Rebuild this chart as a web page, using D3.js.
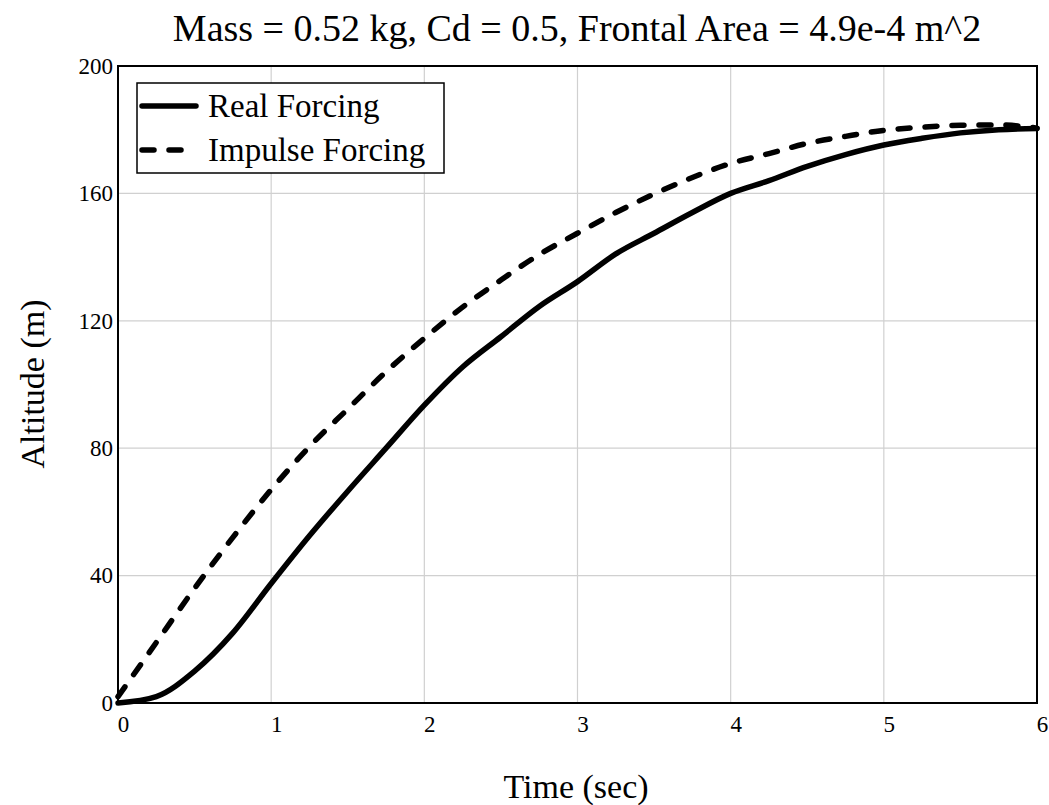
<!DOCTYPE html>
<html>
<head>
<meta charset="utf-8">
<script src="https://cdn.jsdelivr.net/npm/d3@7"></script>
<style>
  body { margin: 0; background: #fff; }
  svg { font-family: "Liberation Serif", "Times New Roman", serif; }
</style>
</head>
<body>
<div class="chart-container"></div>
<script>
var time = [0, 0.25, 0.5, 0.75, 1, 1.25, 1.5, 1.75, 2, 2.25, 2.5, 2.75, 3,
            3.25, 3.5, 3.75, 4, 4.25, 4.5, 4.75, 5, 5.25, 5.5, 5.75, 6];
var realForcing = [0, 2, 10, 22, 37.5, 52.5, 66.5, 80, 93.5, 105.5, 115, 124.5, 132.3,
                   141, 147.5, 154, 160, 164, 168.5, 172.2, 175.2, 177.3, 179, 180, 180.4];
var impulseForcing = [2, 19, 36, 52, 67, 80.5, 92.3, 104, 114.5, 124.3, 132.8, 140.8, 147.5,
                      154, 159.8, 165, 169.4, 172.5, 175.7, 177.9, 179.8, 180.8, 181.4, 181.5, 180.5];
var xTicks = [0, 1, 2, 3, 4, 5, 6];
var yTicks = [0, 40, 80, 120, 160, 200];
var seriesNames = ["Real Forcing", "Impulse Forcing"];

draw();

function draw() {
    var drawWidth = 1049, drawHeight = 805;
    var margin = { top: 66, right: 12, bottom: 102, left: 118 };
    var width = drawWidth - margin.left - margin.right;
    var height = drawHeight - margin.top - margin.bottom;

    var svg = d3.select(".chart-container").append("svg")
        .attr("width", drawWidth)
        .attr("height", drawHeight);

    var g = svg.append("g")
        .attr("transform", "translate(" + margin.left + "," + margin.top + ")");

    var x = d3.scaleLinear().domain([0, 6]).range([0, width]);
    var y = d3.scaleLinear().domain([0, 200]).range([height, 0]);

    // grid
    g.append("g").selectAll("line").data(xTicks.slice(1, -1)).enter().append("line")
        .attr("x1", function (d) { return x(d); }).attr("x2", function (d) { return x(d); })
        .attr("y1", 0).attr("y2", height)
        .attr("stroke", "#d0d0d0").attr("stroke-width", 1.2);
    g.append("g").selectAll("line").data(yTicks.slice(1, -1)).enter().append("line")
        .attr("y1", function (d) { return y(d); }).attr("y2", function (d) { return y(d); })
        .attr("x1", 0).attr("x2", width)
        .attr("stroke", "#d0d0d0").attr("stroke-width", 1.2);

    // axes (labels only, frame drawn separately)
    var xAxis = g.append("g")
        .attr("transform", "translate(0," + height + ")")
        .call(d3.axisBottom(x).tickValues(xTicks).tickSize(0).tickPadding(13).tickFormat(d3.format("d")));
    var yAxis = g.append("g")
        .call(d3.axisLeft(y).tickValues(yTicks).tickSize(0).tickPadding(5).tickFormat(d3.format("d")));
    [xAxis, yAxis].forEach(function (a) {
        a.select(".domain").remove();
        a.selectAll("text")
            .attr("font-family", "Liberation Serif, serif")
            .attr("font-size", 23)
            .attr("fill", "#000");
    });
    xAxis.selectAll("text").attr("dx", 5);

    // lines
    var pts = function (vals) { return time.map(function (t, i) { return [t, vals[i]]; }); };
    var line = d3.line()
        .x(function (d) { return x(d[0]); })
        .y(function (d) { return y(d[1]); })
        .curve(d3.curveMonotoneX);

    g.append("path").datum(pts(impulseForcing))
        .attr("d", line)
        .attr("fill", "none").attr("stroke", "#000")
        .attr("stroke-width", 5.5).attr("stroke-linecap", "round")
        .attr("stroke-dasharray", "12,15");
    g.append("path").datum(pts(realForcing))
        .attr("d", line)
        .attr("fill", "none").attr("stroke", "#000")
        .attr("stroke-width", 5.5).attr("stroke-linecap", "round");

    // frame
    g.append("rect")
        .attr("x", 0).attr("y", 0).attr("width", width).attr("height", height)
        .attr("fill", "none").attr("stroke", "#000").attr("stroke-width", 2);

    // legend
    var legend = g.append("g").attr("transform", "translate(19,17)");
    legend.append("rect")
        .attr("width", 307).attr("height", 90)
        .attr("fill", "#fff").attr("stroke", "#000").attr("stroke-width", 1.5);
    var items = legend.selectAll(".item").data(seriesNames).enter().append("g")
        .attr("class", "item")
        .attr("transform", function (d, i) { return "translate(0," + (23 + i * 44) + ")"; });
    items.append("line")
        .attr("x1", 5).attr("x2", 59).attr("y1", 0).attr("y2", 0)
        .attr("stroke", "#000").attr("stroke-width", 5.5)
        .attr("stroke-linecap", "round")
        .attr("stroke-dasharray", function (d, i) { return i === 1 ? "12,15" : null; });
    items.append("text")
        .attr("x", 71).attr("y", 11)
        .attr("font-size", 33)
        .text(function (d) { return d; });

    // title and axis titles
    svg.append("text")
        .attr("x", 577).attr("y", 41)
        .attr("text-anchor", "middle").attr("font-size", 38)
        .text("Mass = 0.52 kg, Cd = 0.5, Frontal Area = 4.9e-4 m^2");
    svg.append("text")
        .attr("x", 576).attr("y", 798)
        .attr("text-anchor", "middle").attr("font-size", 34)
        .text("Time (sec)");
    svg.append("text")
        .attr("transform", "translate(44,384) rotate(-90)")
        .attr("text-anchor", "middle").attr("font-size", 34)
        .text("Altitude (m)");
}
</script>
</body>
</html>
